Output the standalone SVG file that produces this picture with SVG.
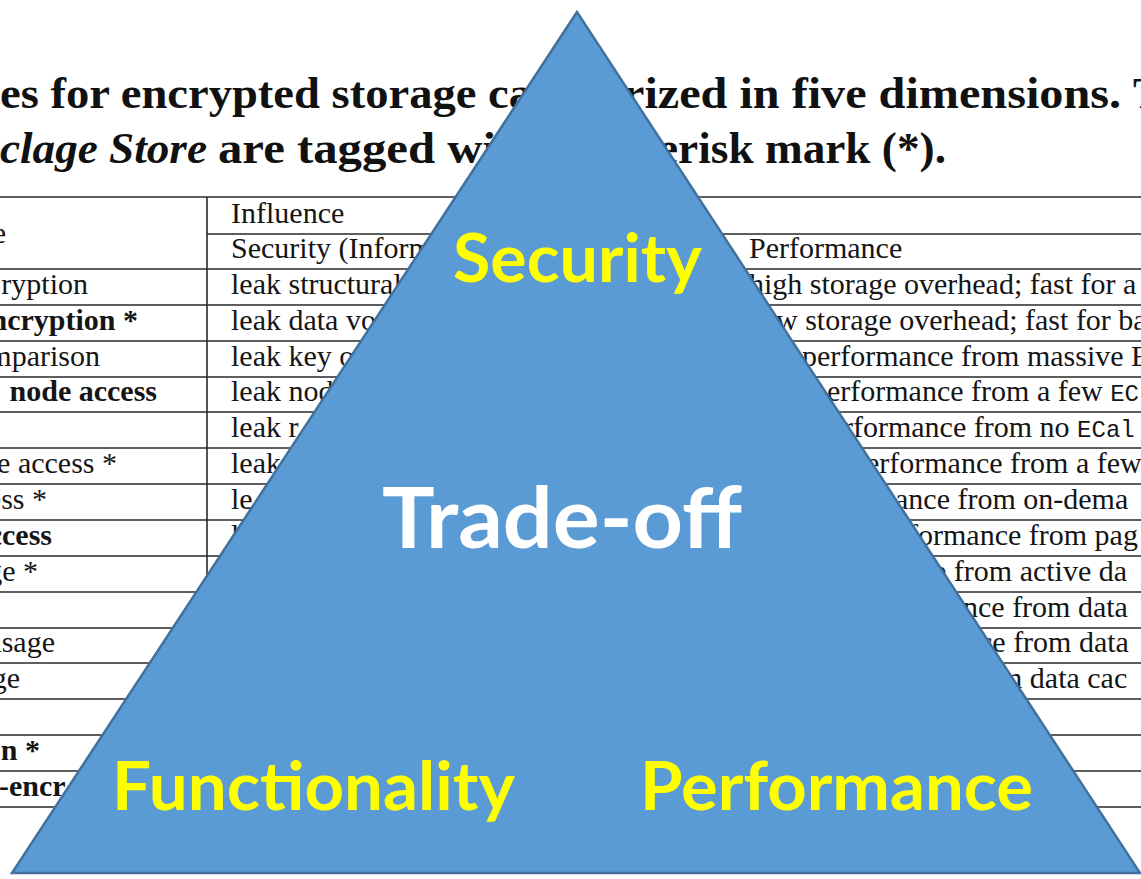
<svg xmlns="http://www.w3.org/2000/svg" width="1141" height="879" viewBox="0 0 1141 879">
<style>
.ttl{font-family:"Liberation Serif",serif;font-weight:bold;font-size:45px;fill:#111}
.tt{font-family:"Liberation Serif",serif;font-size:30px;fill:#151515}
.tb{font-family:"Liberation Serif",serif;font-size:30px;font-weight:bold;fill:#151515}
.mono{font-family:"Liberation Mono",monospace;font-size:24px}
.rule{stroke:#2a2a2a;stroke-width:1.6;fill:none}
.lbl{font-family:Lato,"Open Sans",sans-serif;font-weight:bold;fill:#FFFF00}
</style>
<rect width="1141" height="879" fill="#ffffff"/>
<g id="caption">
<text class="ttl" x="0" y="108" textLength="532" lengthAdjust="spacingAndGlyphs">es for encrypted storage ca</text>
<text class="ttl" x="623" y="108" textLength="498" lengthAdjust="spacingAndGlyphs">rized in five dimensions.</text>
<text class="ttl" x="1133" y="108">T</text>
<text class="ttl" x="0" y="163" textLength="207" lengthAdjust="spacingAndGlyphs" font-style="italic">clage Store</text>
<text class="ttl" x="218" y="163" textLength="278" lengthAdjust="spacingAndGlyphs">are tagged wi</text>
<text class="ttl" x="658" y="163" textLength="288" lengthAdjust="spacingAndGlyphs">erisk mark (*).</text>
</g>
<g id="table-rules">
<path class="rule" stroke-width="2.2" d="M0 197H1141M0 269H1141"/>
<path class="rule" d="M207 234H1141M0 305H1141M0 341H1141M0 377H1141M0 412H1141M0 448H1141M0 484H1141M0 520H1141M0 556H1141M0 592H1141M0 628H1141M0 663H1141M0 699H1141M0 735H1141M0 771H1141M0 807H1141M207 197V807"/>
</g>
<g id="table-text">
<text class="tt" x="6" y="243" text-anchor="end">e</text>
<text class="tt" x="88" y="294" text-anchor="end">ryption</text>
<text class="tb" x="138" y="330" text-anchor="end">ncryption *</text>
<text class="tt" x="100" y="366" text-anchor="end">mparison</text>
<text class="tb" x="157" y="401" text-anchor="end">node access</text>
<text class="tt" x="117" y="473" text-anchor="end">ge access *</text>
<text class="tt" x="47" y="509" text-anchor="end">ess *</text>
<text class="tb" x="52" y="545" text-anchor="end">ccess</text>
<text class="tt" x="38" y="581" text-anchor="end">ge *</text>
<text class="tt" x="55" y="652" text-anchor="end">usage</text>
<text class="tt" x="20" y="688" text-anchor="end">ge</text>
<text class="tb" x="40" y="760" text-anchor="end">on *</text>
<text class="tb" x="-1" y="796">-encr</text>

<text class="tt" x="231" y="223">Influence</text>
<text class="tt" x="231" y="258">Security (Inform</text>
<text class="tt" x="231" y="294">leak structural</text>
<text class="tt" x="231" y="330">leak data vo</text>
<text class="tt" x="231" y="366">leak key o</text>
<text class="tt" x="231" y="401">leak node</text>
<text class="tt" x="231" y="437">leak r</text>
<text class="tt" x="231" y="473">leak</text>
<text class="tt" x="231" y="509">le</text>
<text class="tt" x="231" y="545">l</text>

<text class="tt" x="749" y="258">Performance</text>
<text class="tt" x="749" y="294">high storage overhead; fast for a</text>
<text class="tt" x="776" y="330">w storage overhead; fast for ba</text>
<text class="tt" x="802" y="366">performance from massive E</text>
<text class="tt" x="827" y="401">erformance from a few <tspan class="mono">EC</tspan></text>
<text class="tt" x="843" y="437">rformance from no <tspan class="mono">ECal</tspan></text>
<text class="tt" x="866" y="473">erformance from a few</text>
<text class="tt" x="880" y="509">nance from on-dema</text>
<text class="tt" x="908" y="545">formance from pag</text>
<text class="tt" x="933" y="581">e from active da</text>
<text class="tt" x="963" y="617">nce from data</text>
<text class="tt" x="979" y="652">ce from data</text>
<text class="tt" x="999" y="688">m data cac</text>
</g>
<g id="triangle">
<polygon points="577,12 12,873 1140,873" fill="#5B9BD5" stroke="#41719C" stroke-width="2.5" stroke-linejoin="miter"/>
</g>
<g id="node-security"><text class="lbl" x="453" y="282" font-size="66" textLength="249" lengthAdjust="spacingAndGlyphs">Security</text></g>
<g id="node-tradeoff"><text class="lbl" x="382" y="548" font-size="84" style="fill:#FFFFFF" textLength="360" lengthAdjust="spacingAndGlyphs">Trade-off</text></g>
<g id="node-functionality"><text class="lbl" x="112" y="810" font-size="66" textLength="403" lengthAdjust="spacingAndGlyphs">Functionality</text></g>
<g id="node-performance"><text class="lbl" x="640" y="810" font-size="66" textLength="393" lengthAdjust="spacingAndGlyphs">Performance</text></g>
<g id="connectors"/>
</svg>
